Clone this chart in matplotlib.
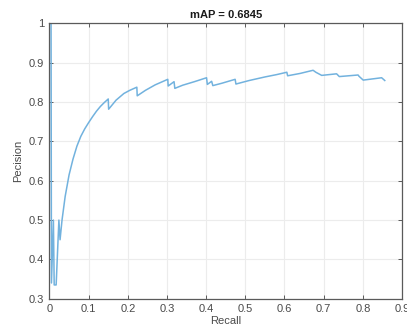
import matplotlib
matplotlib.use("Agg")
import matplotlib.pyplot as plt

plt.rcParams["font.family"] = ["Liberation Sans", "DejaVu Sans"]

# Precision-recall curve values
recall = [0.000, 0.004, 0.005, 0.010, 0.012, 0.017, 0.024, 0.027, 0.032,
          0.040, 0.050, 0.060, 0.070, 0.080, 0.090, 0.100, 0.110, 0.120,
          0.130, 0.140, 0.150, 0.151, 0.170, 0.190, 0.205, 0.223, 0.224,
          0.245, 0.270, 0.302, 0.303, 0.318, 0.320, 0.340, 0.370, 0.401,
          0.403, 0.414, 0.417, 0.440, 0.474, 0.476, 0.510, 0.550, 0.580,
          0.606, 0.608, 0.640, 0.673, 0.680, 0.695, 0.733, 0.740, 0.788,
          0.790, 0.801, 0.848, 0.856]
precision = [1.000, 1.000, 0.340, 0.500, 0.335, 0.335, 0.500, 0.450, 0.500,
             0.560, 0.615, 0.655, 0.688, 0.713, 0.732, 0.748, 0.763, 0.777,
             0.789, 0.799, 0.808, 0.782, 0.805, 0.822, 0.830, 0.838, 0.816,
             0.830, 0.844, 0.858, 0.841, 0.852, 0.835, 0.843, 0.852, 0.862,
             0.845, 0.853, 0.842, 0.848, 0.858, 0.846, 0.855, 0.864, 0.870,
             0.876, 0.867, 0.873, 0.881, 0.876, 0.868, 0.872, 0.865, 0.869,
             0.866, 0.856, 0.862, 0.855]

x_ticks = [0, 0.1, 0.2, 0.3, 0.4, 0.5, 0.6, 0.7, 0.8, 0.9]
x_tick_labels = ["0", "0.1", "0.2", "0.3", "0.4", "0.5", "0.6", "0.7", "0.8", "0.9"]
y_ticks = [0.3, 0.4, 0.5, 0.6, 0.7, 0.8, 0.9, 1.0]
y_tick_labels = ["0.3", "0.4", "0.5", "0.6", "0.7", "0.8", "0.9", "1"]

fig = plt.figure(figsize=(4.07, 3.29), dpi=100)
ax = fig.add_axes([0.1216, 0.0921, 0.8661, 0.8365])

ax.plot(recall, precision, color="#72b2de", linewidth=1.1)

ax.set_xlim(0, 0.9)
ax.set_ylim(0.3, 1.0)
ax.set_xticks(x_ticks)
ax.set_xticklabels(x_tick_labels)
ax.set_yticks(y_ticks)
ax.set_yticklabels(y_tick_labels)

axis_color = "#5a5a5a"
ax.grid(True, color="#ececec", linewidth=0.8)
ax.set_axisbelow(True)
for side in ax.spines.values():
    side.set_color(axis_color)
    side.set_linewidth(0.9)
ax.tick_params(direction="in", top=True, right=True, length=3,
               width=0.7, colors=axis_color, labelsize=8, pad=4)
for lab in ax.get_xticklabels() + ax.get_yticklabels():
    lab.set_color("#4a4a4a")

ax.set_xlabel("Recall", fontsize=8, color="#4a4a4a", labelpad=1)
ax.set_ylabel("Pecision", fontsize=8, color="#4a4a4a", labelpad=4)
ax.set_title("mAP = 0.6845", fontsize=8, fontweight="bold", color="#1a1a1a", pad=4)

fig.savefig("out.png", dpi=100)
